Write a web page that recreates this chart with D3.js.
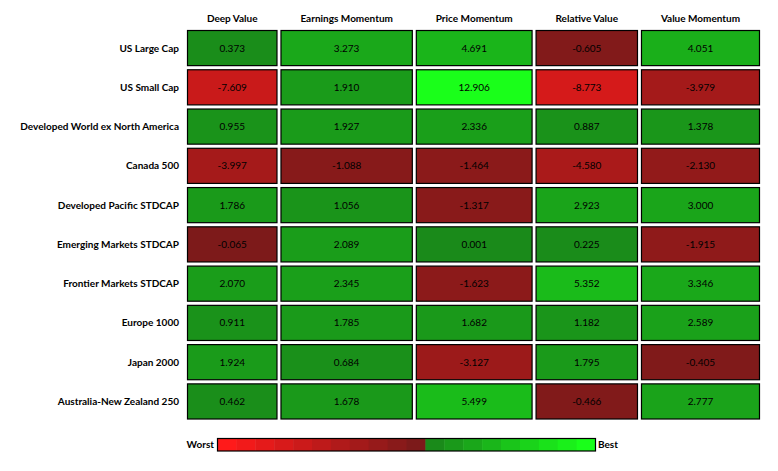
<!DOCTYPE html>
<html><head><meta charset="utf-8">
<script src="https://cdn.jsdelivr.net/npm/d3@7"></script>
<style>body{margin:0;background:#fff}svg{display:block}text{font-family:Lato,"Open Sans",sans-serif}</style>
</head><body><svg id="c" width="778" height="471"></svg>
<script>
const rows = ["US Large Cap","US Small Cap","Developed World ex North America","Canada 500","Developed Pacific STDCAP","Emerging Markets STDCAP","Frontier Markets STDCAP","Europe 1000","Japan 2000","Australia-New Zealand 250"];
const columns = ["Deep Value","Earnings Momentum","Price Momentum","Relative Value","Value Momentum"];
const deepValue = [0.373,-7.609,0.955,-3.997,1.786,-0.065,2.070,0.911,1.924,0.462];
const earningsMomentum = [3.273,1.910,1.927,-1.088,1.056,2.089,2.345,1.785,0.684,1.678];
const priceMomentum = [4.691,12.906,2.336,-1.464,-1.317,0.001,-1.623,1.682,-3.127,5.499];
const relativeValue = [-0.605,-8.773,0.887,-4.580,2.923,0.225,5.352,1.182,1.795,-0.466];
const valueMomentum = [4.051,-3.979,1.378,-2.130,3.000,-1.915,3.346,2.589,-0.405,2.777];
const legendLabels = ["Worst","Best"];

const series = [deepValue, earningsMomentum, priceMomentum, relativeValue, valueMomentum];
const svg = d3.select("#c");

const maxAbs = d3.max(series.flat(), d => Math.abs(d));
const redScale = d3.scaleLinear().domain([-maxAbs, 0]).range(["#ff1a1a", "#7c1a1a"]).clamp(true);
const greenScale = d3.scaleLinear().domain([0, maxAbs]).range(["#1a8a1a", "#1aff1a"]).clamp(true);
const color = (v, neg) => (neg ?? v < 0) ? redScale(v) : greenScale(v);

// column widths from header text widths
const left = 187, right = 760, gap = 3;
const tmp = svg.append("g");
const widths = columns.map(c => {
  const t = tmp.append("text").attr("font-size", 10).attr("font-weight", "bold").text(c);
  return t.node().getComputedTextLength();
});
tmp.remove();
const pad = ((right - left) - gap * (columns.length - 1) - d3.sum(widths)) / columns.length;
const colX = []; let acc = left;
widths.forEach(w => { colX.push(acc); acc += w + pad + gap; });
const colW = widths.map(w => w + pad);

const y = d3.scaleBand().domain(rows).range([30, 419.5]).paddingInner(0.08);

// headers
svg.selectAll("text.hdr").data(columns).join("text").attr("class", "hdr")
  .attr("x", (d, i) => colX[i] + colW[i] / 2).attr("y", 22)
  .attr("text-anchor", "middle").attr("font-size", 10).attr("font-weight", "bold")
  .attr("fill", "#000").text(d => d);

// row labels
svg.selectAll("text.row").data(rows).join("text").attr("class", "row")
  .attr("x", 179).attr("y", d => y(d) + y.bandwidth() / 2 + 3.5)
  .attr("text-anchor", "end").attr("font-size", 10).attr("font-weight", "bold")
  .attr("fill", "#000").text(d => d);

// cells
const cells = [];
series.forEach((s, ci) => s.forEach((v, ri) => cells.push({ ci, ri, v })));
svg.selectAll("rect.cell").data(cells).join("rect").attr("class", "cell")
  .attr("x", d => colX[d.ci] + 0.5).attr("y", d => y(rows[d.ri]) + 0.5)
  .attr("width", d => colW[d.ci] - 1).attr("height", y.bandwidth() - 1)
  .attr("fill", d => color(d.v)).attr("stroke", "#000").attr("stroke-width", 1.2);
svg.selectAll("text.val").data(cells).join("text").attr("class", "val")
  .attr("x", d => colX[d.ci] + colW[d.ci] / 2).attr("y", d => y(rows[d.ri]) + y.bandwidth() / 2 + 3.5)
  .attr("text-anchor", "middle").attr("font-size", 10).attr("fill", "#000")
  .text(d => d3.format(".3f")(d.v).replace("−", "-"));

// legend
const nRed = 11, nGreen = 9;
const legendVals = d3.range(nRed).map(i => ({ v: -maxAbs * (1 - i / (nRed - 1)), neg: true }))
  .concat(d3.range(nGreen).map(i => ({ v: maxAbs * i / (nGreen - 1), neg: false })));
const lx = d3.scaleBand().domain(d3.range(legendVals.length)).range([217.5, 595.5]);
const lg = svg.append("g");
lg.selectAll("rect").data(legendVals).join("rect")
  .attr("x", (d, i) => lx(i)).attr("y", 438.5).attr("width", lx.bandwidth() + 0.5).attr("height", 12.5)
  .attr("fill", d => color(d.v, d.neg));
lg.append("rect").attr("x", 217.5).attr("y", 438.5).attr("width", 378).attr("height", 12.5)
  .attr("fill", "none").attr("stroke", "#000").attr("stroke-width", 1.2);
lg.append("text").attr("x", 214).attr("y", 448).attr("text-anchor", "end").attr("font-size", 10)
  .attr("font-weight", "bold").attr("fill", "#000").text(legendLabels[0]);
lg.append("text").attr("x", 598).attr("y", 448).attr("font-size", 10)
  .attr("font-weight", "bold").attr("fill", "#000").text(legendLabels[1]);
</script></body></html>
